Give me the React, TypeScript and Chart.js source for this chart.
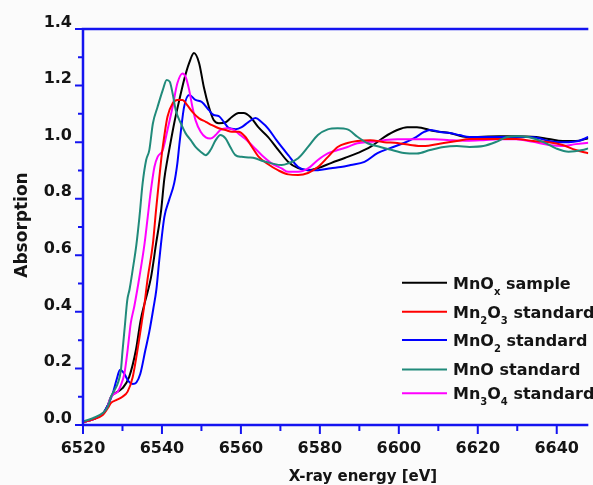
import React, { useEffect, useRef } from "react";
import { Chart, registerables } from "chart.js";

Chart.register(...registerables);

// ---------- data ----------
const mnoxEnergy = [6520, 6522.5, 6525, 6526.3, 6527.1, 6528.8, 6530.0, 6531.7, 6533.4, 6534.6, 6535.6, 6537.2, 6538.5, 6539.8, 6540.6, 6541.4, 6541.8, 6543.1, 6544.4, 6545.6, 6546.9, 6548.1, 6549.4, 6550.6, 6551.9, 6553.1, 6554.4, 6556.2, 6557.7, 6559.4, 6560.7, 6562.4, 6564.4, 6566.9, 6569.5, 6572.0, 6574.5, 6577.0, 6579.5, 6582.8, 6586.3, 6589.5, 6592.8, 6596.3, 6599.6, 6602.1, 6604.6, 6608.9, 6612.9, 6617.2, 6625.4, 6629.7, 6634.8, 6638.0, 6641.5, 6644.8, 6648];
const mnoxAbs = [0.01, 0.02, 0.04, 0.07, 0.1, 0.118, 0.13, 0.17, 0.265, 0.37, 0.43, 0.52, 0.64, 0.76, 0.87, 0.94, 0.97, 1.067, 1.149, 1.22, 1.28, 1.315, 1.28, 1.195, 1.124, 1.078, 1.067, 1.071, 1.089, 1.103, 1.103, 1.089, 1.053, 1.018, 0.972, 0.93, 0.908, 0.901, 0.908, 0.926, 0.944, 0.961, 0.983, 1.018, 1.043, 1.053, 1.053, 1.039, 1.032, 1.018, 1.021, 1.021, 1.018, 1.011, 1.004, 1.004, 1.014];

const mn2o3Energy = [6520, 6522.5, 6525, 6526.3, 6527.1, 6528.4, 6530.0, 6531.3, 6532.6, 6533.8, 6535.1, 6535.5, 6536.4, 6537.7, 6538.5, 6539.3, 6539.8, 6540.2, 6541.4, 6542.7, 6543.9, 6545.2, 6546.4, 6547.7, 6549.4, 6551.1, 6552.7, 6554.4, 6556.1, 6557.7, 6559.4, 6561.1, 6562.8, 6564.4, 6566.9, 6569.5, 6572.0, 6574.5, 6577.0, 6579.5, 6582.0, 6584.5, 6587.0, 6589.5, 6592.8, 6596.3, 6599.6, 6602.9, 6606.0, 6611.4, 6614.7, 6617.9, 6625.4, 6629.7, 6634.0, 6638.0, 6641.5, 6644.8, 6648];
const mn2o3Abs = [0.01, 0.02, 0.035, 0.06, 0.078, 0.088, 0.1, 0.118, 0.17, 0.265, 0.383, 0.42, 0.52, 0.64, 0.76, 0.87, 0.937, 0.983, 1.09, 1.137, 1.149, 1.149, 1.131, 1.107, 1.084, 1.072, 1.06, 1.049, 1.043, 1.037, 1.037, 1.019, 0.983, 0.95, 0.922, 0.9, 0.886, 0.884, 0.891, 0.912, 0.947, 0.983, 0.997, 1.004, 1.007, 1.0, 0.997, 0.99, 0.986, 0.997, 1.004, 1.011, 1.011, 1.011, 1.004, 1.0, 0.99, 0.972, 0.961];

const mno2Energy = [6520, 6522.5, 6525, 6526.3, 6527.5, 6528.5, 6529.4, 6530.5, 6531.5, 6532.6, 6533.5, 6534.5, 6535.8, 6536.8, 6537.8, 6538.6, 6539.3, 6540.6, 6541.8, 6543.1, 6543.9, 6544.4, 6545.6, 6546.9, 6548.5, 6550.1, 6551.9, 6553.1, 6554.4, 6555.7, 6556.9, 6558.7, 6560.2, 6561.9, 6563.7, 6565.2, 6566.9, 6569.0, 6572.0, 6574.5, 6577.0, 6579.5, 6582.8, 6585.3, 6587.8, 6591.3, 6594.6, 6597.8, 6601.3, 6603.9, 6606.4, 6607.9, 6610.4, 6612.9, 6615.4, 6617.9, 6622.9, 6628.0, 6633.0, 6635.5, 6638.0, 6640.5, 6643.0, 6645.5, 6648];
const mno2Abs = [0.01, 0.02, 0.04, 0.07, 0.11, 0.16, 0.195, 0.18, 0.155, 0.145, 0.15, 0.18, 0.265, 0.33, 0.41, 0.48, 0.58, 0.735, 0.795, 0.855, 0.925, 0.99, 1.124, 1.167, 1.149, 1.142, 1.113, 1.096, 1.092, 1.071, 1.05, 1.046, 1.053, 1.071, 1.085, 1.071, 1.048, 1.007, 0.954, 0.912, 0.901, 0.901, 0.908, 0.912, 0.919, 0.93, 0.961, 0.979, 0.997, 1.014, 1.036, 1.043, 1.036, 1.032, 1.025, 1.018, 1.018, 1.018, 1.018, 1.014, 1.004, 1.0, 1.0, 1.004, 1.018];

const mnoEnergy = [6520, 6522.5, 6525, 6526.3, 6527.1, 6528.0, 6528.8, 6529.6, 6530.0, 6530.6, 6531.2, 6531.8, 6532.6, 6533.5, 6534.3, 6535.1, 6536.0, 6536.8, 6537.7, 6538.9, 6540.2, 6541.2, 6542.0, 6542.7, 6543.5, 6544.8, 6546.0, 6547.3, 6548.5, 6549.8, 6551.1, 6552.3, 6553.6, 6554.8, 6556.1, 6557.3, 6558.6, 6560.2, 6561.9, 6563.6, 6565.3, 6567.8, 6570.3, 6572.0, 6574.5, 6577.0, 6579.5, 6582.0, 6584.5, 6587.0, 6589.5, 6592.1, 6595.3, 6597.8, 6601.3, 6604.6, 6607.9, 6611.4, 6614.7, 6617.9, 6621.4, 6624.7, 6627.2, 6629.7, 6633.0, 6636.5, 6639.8, 6643.0, 6646.5, 6648];
const mnoAbs = [0.012, 0.024, 0.042, 0.065, 0.1, 0.124, 0.147, 0.194, 0.26, 0.35, 0.44, 0.48, 0.55, 0.635, 0.736, 0.854, 0.937, 0.972, 1.066, 1.125, 1.184, 1.22, 1.213, 1.172, 1.113, 1.066, 1.031, 1.007, 0.983, 0.966, 0.954, 0.972, 1.007, 1.025, 1.013, 0.983, 0.954, 0.948, 0.946, 0.943, 0.934, 0.925, 0.919, 0.925, 0.943, 0.983, 1.025, 1.045, 1.049, 1.045, 1.019, 0.996, 0.983, 0.974, 0.962, 0.96, 0.972, 0.983, 0.986, 0.983, 0.986, 1.001, 1.017, 1.021, 1.017, 1.001, 0.978, 0.966, 0.972, 0.978];

const mn3o4Energy = [6520, 6522.5, 6525, 6526.3, 6526.7, 6527.5, 6528.8, 6529.6, 6530.5, 6531.3, 6532.1, 6533.0, 6534.3, 6535.6, 6536.4, 6537.2, 6538.1, 6538.9, 6540.2, 6541.4, 6542.7, 6543.9, 6545.2, 6546.0, 6546.9, 6547.7, 6548.5, 6549.8, 6551.1, 6552.3, 6553.6, 6554.8, 6556.5, 6558.2, 6559.8, 6561.5, 6563.2, 6565.3, 6567.8, 6570.3, 6572.0, 6574.5, 6577.0, 6579.5, 6582.0, 6584.5, 6587.0, 6589.5, 6592.8, 6596.3, 6599.6, 6603.9, 6608.9, 6612.9, 6617.2, 6621.4, 6625.4, 6629.7, 6634.0, 6638.0, 6641.5, 6644.8, 6648];
const mn3o4Abs = [0.01, 0.02, 0.04, 0.065, 0.088, 0.106, 0.118, 0.141, 0.183, 0.265, 0.36, 0.42, 0.524, 0.642, 0.736, 0.83, 0.913, 0.948, 0.972, 1.043, 1.125, 1.208, 1.243, 1.231, 1.184, 1.125, 1.078, 1.037, 1.017, 1.013, 1.025, 1.043, 1.049, 1.043, 1.025, 1.007, 0.983, 0.954, 0.925, 0.907, 0.895, 0.895, 0.907, 0.937, 0.96, 0.972, 0.983, 0.996, 1.001, 1.007, 1.01, 1.01, 1.01, 1.007, 1.005, 1.007, 1.01, 1.01, 1.001, 0.99, 0.986, 0.993, 0.998];

// legend labels: "_c" marks a subscript character
const seriesNames = ["MnO_x sample", "Mn_2O_3 standard", "MnO_2 standard", "MnO standard", "Mn_3O_4 standard"];
const seriesColors = ["#000000", "#ff0000", "#0000ff", "#208a7a", "#ff00ff"];
const seriesEnergies = [mnoxEnergy, mn2o3Energy, mno2Energy, mnoEnergy, mn3o4Energy];
const seriesValues = [mnoxAbs, mn2o3Abs, mno2Abs, mnoAbs, mn3o4Abs];

const xTitle = "X-ray energy [eV]";
const yTitle = "Absorption";
const xMin = 6520;
const xMax = 6648;
const xMajorStep = 20;
const xMinorStep = 10;
const xLastTick = 6640;
const yMin = 0;
const yMax = 1.4;
const yMajorStep = 0.2;
const yMinorStep = 0.1;

const AXIS_COLOR = "#1414f0";
const FONT = "'DejaVu Sans', sans-serif";
const TEXT_COLOR = "#141414";

function drawRich(ctx: CanvasRenderingContext2D, text: string, x: number, baseline: number) {
  let cx = x;
  for (let i = 0; i < text.length; i++) {
    const ch = text[i];
    if (ch === "_" && i + 1 < text.length) {
      const s = text[i + 1];
      ctx.font = `bold 10px ${FONT}`;
      ctx.fillText(s, cx, baseline + 6);
      cx += ctx.measureText(s).width;
      i++;
    } else {
      ctx.font = `bold 16px ${FONT}`;
      ctx.fillText(ch, cx, baseline);
      cx += ctx.measureText(ch).width;
    }
  }
}

const framePlugin = {
  id: "framePlugin",
  beforeDraw(chart: any) {
    const { ctx, width, height } = chart;
    ctx.save();
    ctx.fillStyle = "#fbfbfb";
    ctx.fillRect(0, 0, width, height);
    ctx.restore();
  },
  afterDraw(chart: any) {
    const { ctx, chartArea, scales } = chart;
    const xs = scales.x;
    const ys = scales.y;
    const { left, right, top, bottom } = chartArea;
    ctx.save();
    ctx.strokeStyle = AXIS_COLOR;
    ctx.lineCap = "butt";
    // frame: left, bottom, top
    ctx.lineWidth = 2.5;
    ctx.beginPath();
    ctx.moveTo(left, top - 1.25);
    ctx.lineTo(left, bottom + 1.25);
    ctx.moveTo(left - 1.25, bottom);
    ctx.lineTo(right, bottom);
    ctx.moveTo(left - 1.25, top);
    ctx.lineTo(right, top);
    ctx.stroke();
    // ticks
    ctx.lineWidth = 2;
    ctx.beginPath();
    const nY = Math.round((yMax - yMin) / yMinorStep);
    for (let i = 0; i <= nY; i++) {
      const v = yMin + i * yMinorStep;
      const py = ys.getPixelForValue(v);
      const major = i % Math.round(yMajorStep / yMinorStep) === 0;
      const len = major ? 8 : 5;
      ctx.moveTo(left, py);
      ctx.lineTo(left - len, py);
    }
    for (let e = xMin; e <= xLastTick; e += xMinorStep) {
      const px = xs.getPixelForValue(e);
      const major = (e - xMin) % xMajorStep === 0;
      const len = major ? 9 : 6;
      ctx.moveTo(px, bottom);
      ctx.lineTo(px, bottom + len);
    }
    ctx.stroke();

    // axis titles
    ctx.fillStyle = TEXT_COLOR;
    ctx.font = `bold 15px ${FONT}`;
    ctx.textAlign = "left";
    ctx.textBaseline = "alphabetic";
    const xw = ctx.measureText(xTitle).width;
    ctx.fillText(xTitle, 363 - xw / 2, 481);
    ctx.save();
    ctx.font = `bold 17px ${FONT}`;
    ctx.translate(26.5, 225);
    ctx.rotate(-Math.PI / 2);
    ctx.textAlign = "center";
    ctx.fillText(yTitle, 0, 0);
    ctx.restore();

    // legend
    const rowsY = [282.7, 311.7, 340, 369.5, 393.3];
    for (let i = 0; i < seriesNames.length; i++) {
      const y = rowsY[i];
      ctx.strokeStyle = seriesColors[i];
      ctx.lineWidth = 2;
      ctx.beginPath();
      ctx.moveTo(402, y);
      ctx.lineTo(447, y);
      ctx.stroke();
      ctx.fillStyle = TEXT_COLOR;
      ctx.textAlign = "left";
      ctx.textBaseline = "alphabetic";
      drawRich(ctx, seriesNames[i], 453, y + 5.8);
    }
    ctx.restore();
  },
};

export default function App() {
  const canvasRef = useRef<HTMLCanvasElement | null>(null);

  useEffect(() => {
    const canvas = canvasRef.current;
    if (!canvas) return;
    const datasets = seriesNames.map((name, i) => ({
      label: name.replace(/_/g, ""),
      data: seriesEnergies[i].map((e, j) => ({ x: e, y: seriesValues[i][j] })),
      borderColor: seriesColors[i],
      backgroundColor: seriesColors[i],
      borderWidth: 2,
      pointRadius: 0,
      fill: false,
      cubicInterpolationMode: "monotone" as const,
    }));
    // draw black on top
    const ordered = [datasets[3], datasets[1], datasets[4], datasets[2], datasets[0]];
    const chart = new Chart(canvas, {
      type: "line",
      data: { datasets: ordered },
      plugins: [framePlugin],
      options: {
        animation: false,
        responsive: false,
        maintainAspectRatio: false,
        layout: { padding: { top: 29, left: 0, right: 0, bottom: 0 } },
        plugins: { legend: { display: false }, tooltip: { enabled: false } },
        scales: {
          x: {
            type: "linear",
            min: xMin,
            max: xMax,
            grid: { display: false, drawTicks: false },
            border: { display: false },
            ticks: {
              stepSize: xMajorStep,
              includeBounds: false,
              padding: 14,
              maxRotation: 0,
              autoSkip: false,
              color: TEXT_COLOR,
              font: { family: FONT, size: 16, weight: "bold" },
              callback: (v: any) => String(v),
            },
            afterFit: (s: any) => {
              s.height = 60;
            },
          },
          y: {
            type: "linear",
            min: yMin,
            max: yMax,
            grid: { display: false, drawTicks: false },
            border: { display: false },
            ticks: {
              stepSize: yMajorStep,
              padding: 11,
              labelOffset: -6.5,
              color: TEXT_COLOR,
              font: { family: FONT, size: 16, weight: "bold" },
              callback: (v: any) => Number(v).toFixed(1),
            },
            afterFit: (s: any) => {
              s.width = 83;
            },
          },
        },
      },
    });
    return () => chart.destroy();
  }, []);

  return (
    <div style={{ position: "fixed", left: 0, top: 0, width: 593, height: 485 }}>
      <canvas ref={canvasRef} width={593} height={485} style={{ display: "block" }} />
    </div>
  );
}
